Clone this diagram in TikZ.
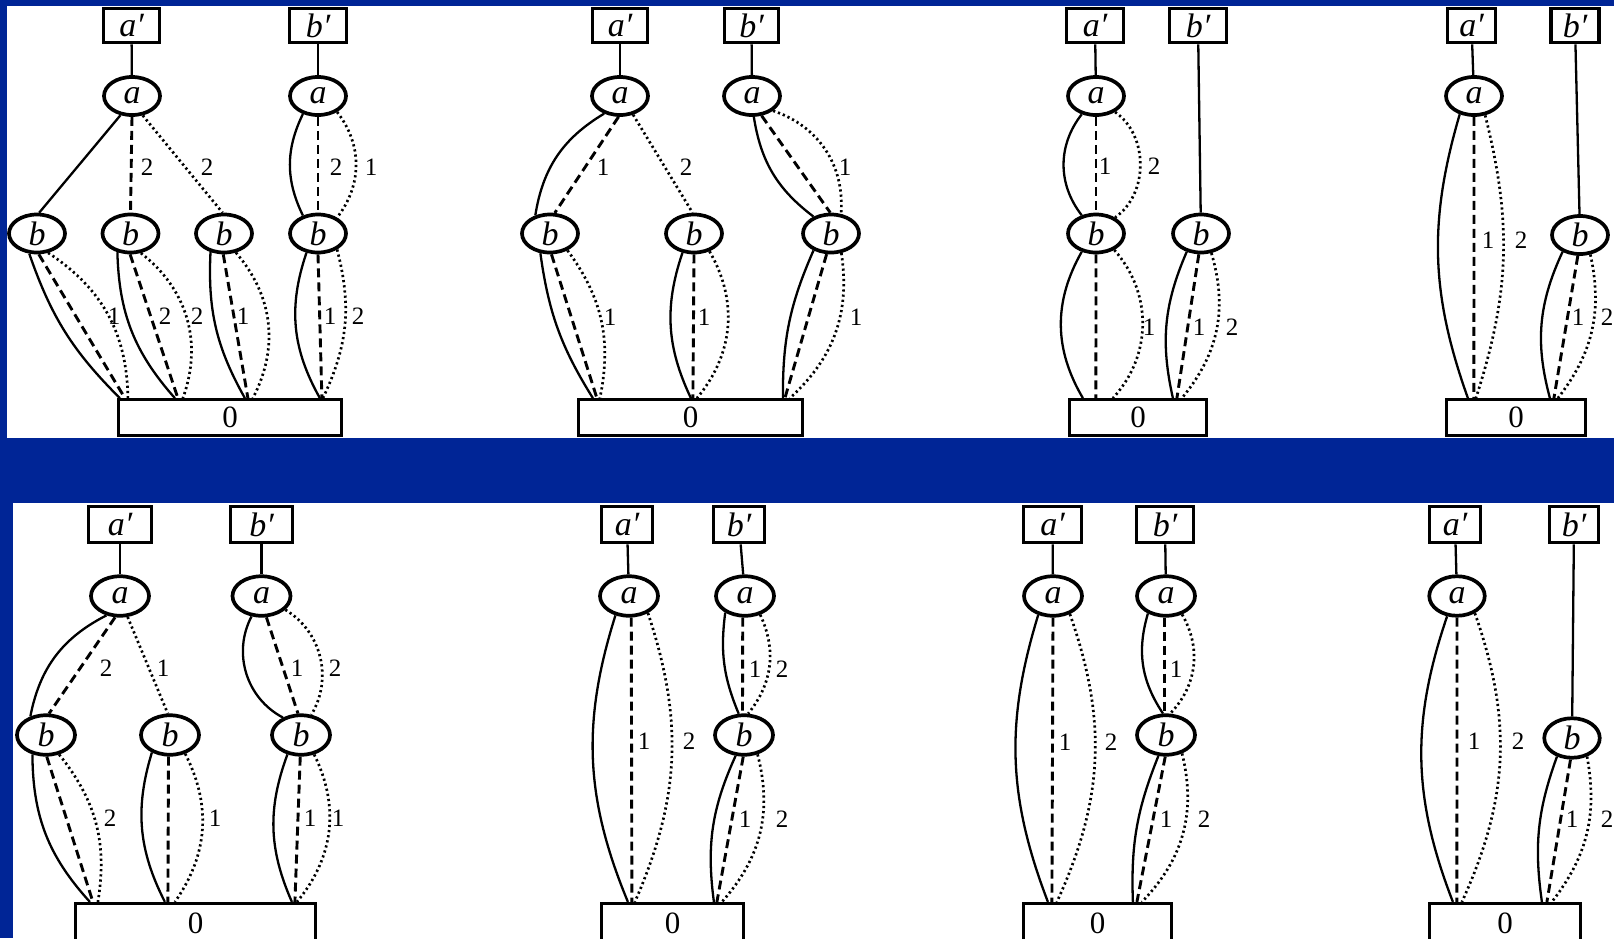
\documentclass[tikz,border=0pt]{standalone}
\usepackage{fontspec}
\setmainfont{Liberation Serif}
\usetikzlibrary{shapes.geometric}
\definecolor{slideblue}{RGB}{0,37,150}
\begin{document}
\begin{tikzpicture}[x=1pt,y=-1pt,
  lbox/.style={draw, rectangle, line width=3.2pt, minimum height=34.5pt, inner sep=0pt, font=\fontsize{34}{34}\selectfont\itshape},
  lboxb/.style={lbox, minimum height=36.5pt},
  nd/.style={draw, ellipse, line width=3.7pt, minimum width=56pt, minimum height=38pt, inner sep=0pt, font=\fontsize{34}{34}\selectfont\itshape},
  ndb/.style={nd, minimum width=58pt, minimum height=39.5pt},
  zbox/.style={draw, rectangle, line width=3.2pt, minimum height=35.5pt, inner sep=0pt, font=\fontsize{31}{31}\selectfont},
  sol/.style={line width=2.3pt},
  dsh/.style={line width=2.9pt, dash pattern=on 9pt off 5pt},
  dtt/.style={line width=2.7pt, dash pattern=on 2.2pt off 3pt},
  lab/.style={font=\fontsize{25}{25}\selectfont, inner sep=0pt}]
\useasboundingbox (0,0) rectangle (1614,938);
\clip (0,0) rectangle (1614,938);
\fill[slideblue] (0,0) rectangle (1614,938);
\fill[white] (7,6) rectangle (1614,438);
\fill[white] (13,503) rectangle (1614,938);

% ===== T1 =====
\node[lbox, minimum width=56pt] (t1ap) at (131.5,25.5) {a′};
\node[lbox, minimum width=57pt] (t1bp) at (318,25.5) {b′};
\node[nd] (t1a1) at (132,96) {a};
\node[nd] (t1a2) at (318,96) {a};
\node[nd] (t1b1) at (37,233.5) {b};
\node[nd] (t1b2) at (130.5,233.5) {b};
\node[nd] (t1b3) at (224,233.5) {b};
\node[nd] (t1b4) at (318,233.5) {b};
\node[zbox, minimum width=223pt] (t1z) at (230,417.5) {0};
\draw[sol] (t1ap) -- (t1a1);
\draw[sol] (t1bp) -- (t1a2);
\draw[sol] (t1a1.-121) -- (t1b1.84);
\draw[dsh] (t1a1.-90) -- (t1b2.90);
\draw[dtt] (t1a1.-61) -- (t1b3.94);
\draw[sol] (t1a2.-130) to[bend right=26] (t1b4.130);
\draw[dsh] (t1a2.-90) -- (t1b4.90);
\draw[dtt] (t1a2.-40) to[bend left=38] (t1b4.40);
\draw[sol] (t1b1.-111) to[bend right=13] ([xshift=3pt]t1z.north west);
\draw[dsh] (t1b1.-85) -- ([xshift=8pt]t1z.north west);
\draw[dtt] (t1b1.-60) to[bend left=28] ([xshift=11pt]t1z.north west);
\draw[sol] (t1b2.-125) to[bend right=20] ([xshift=58pt]t1z.north west);
\draw[dsh] (t1b2.-91) -- ([xshift=61pt]t1z.north west);
\draw[dtt] (t1b2.-62) to[bend left=36] ([xshift=66pt]t1z.north west);
\draw[sol] (t1b3.-126) to[bend right=16] ([xshift=128pt]t1z.north west);
\draw[dsh] (t1b3.-92) -- ([xshift=131pt]t1z.north west);
\draw[dtt] (t1b3.-58) to[bend left=34] ([xshift=136pt]t1z.north west);
\draw[sol] (t1b4.-121) to[bend right=24] ([xshift=203pt]t1z.north west);
\draw[dsh] (t1b4.-90) -- ([xshift=205pt]t1z.north west);
\draw[dtt] (t1b4.-40) to[bend left=20] ([xshift=206pt]t1z.north west);
\node[lab] (t1l1) at (147,167) {2};
\node[lab] (t1l2) at (207,167) {2};
\node[lab] (t1l3) at (336,167) {2};
\node[lab] (t1l4) at (371,167) {1};
\node[lab] (t1l5) at (114,316) {1};
\node[lab] (t1l6) at (165,316) {2};
\node[lab] (t1l7) at (197,316) {2};
\node[lab] (t1l8) at (243,316) {1};
\node[lab] (t1l9) at (330,316) {1};
\node[lab] (t1l10) at (358,316) {2};

% ===== T2 =====
\node[lbox, minimum width=55pt] (t2ap) at (620,25.5) {a′};
\node[lbox, minimum width=54pt] (t2bp) at (751.5,25.5) {b′};
\node[nd] (t2a1) at (620,96) {a};
\node[nd] (t2a2) at (752,96) {a};
\node[nd] (t2b1) at (550,233.5) {b};
\node[nd] (t2b2) at (694,233.5) {b};
\node[nd] (t2b3) at (831,233.5) {b};
\node[zbox, minimum width=224pt] (t2z) at (690.5,417.5) {0};
\draw[sol] (t2ap) -- (t2a1);
\draw[sol] (t2bp) -- (t2a2);
\draw[sol] (t2a1.-132) to[bend right=25] (t2b1.129);
\draw[dsh] (t2a1.-94) -- (t2b1.77);
\draw[dtt] (t2a1.-55) -- (t2b2.94);
\draw[sol] (t2a2.-85) to[bend right=22] (t2b3.136);
\draw[dsh] (t2a2.-64) -- (t2b3.92);
\draw[dtt] (t2a2.-35) to[bend left=38] (t2b3.63);
\draw[sol] (t2b1.-116) to[bend right=12] ([xshift=16pt]t2z.north west);
\draw[dsh] (t2b1.-86) -- ([xshift=20pt]t2z.north west);
\draw[dtt] (t2b1.-44) to[bend left=24] ([xshift=23pt]t2z.north west);
\draw[sol] (t2b2.-121) to[bend right=22] ([xshift=114pt]t2z.north west);
\draw[dsh] (t2b2.-90) -- ([xshift=116pt]t2z.north west);
\draw[dtt] (t2b2.-49) to[bend left=35] ([xshift=120pt]t2z.north west);
\draw[sol] (t2b3.-136) to[bend right=12] ([xshift=206pt]t2z.north west);
\draw[dsh] (t2b3.-102) -- ([xshift=208pt]t2z.north west);
\draw[dtt] (t2b3.-62) to[bend left=28] ([xshift=213pt]t2z.north west);
\node[lab] (t2l1) at (603,167) {1};
\node[lab] (t2l2) at (686,167) {2};
\node[lab] (t2l3) at (845,167) {1};
\node[lab] (t2l4) at (610,317) {1};
\node[lab] (t2l5) at (704,317) {1};
\node[lab] (t2l6) at (856,317) {1};

% ===== T3 =====
\node[lbox, minimum width=57pt] (t3ap) at (1095,25.5) {a′};
\node[lbox, minimum width=57pt] (t3bp) at (1198,25.5) {b′};
\node[nd] (t3a) at (1096,96) {a};
\node[nd] (t3b1) at (1096,233.5) {b};
\node[nd] (t3b2) at (1201,233.5) {b};
\node[zbox, minimum width=137pt] (t3z) at (1138,417.5) {0};
\draw[sol] (t3ap) -- (t3a);
\draw[sol] (t3bp) -- (t3b2);
\draw[sol] (t3a.-128) to[bend right=38] (t3b1.128);
\draw[dsh] (t3a.-90) -- (t3b1.90);
\draw[dtt] (t3a.-40) to[bend left=55] (t3b1.40);
\draw[sol] (t3b1.-128) to[bend right=30] ([xshift=15pt]t3z.north west);
\draw[dsh] (t3b1.-90) -- ([xshift=28pt]t3z.north west);
\draw[dtt] (t3b1.-42) to[bend left=42] ([xshift=45pt]t3z.north west);
\draw[sol] (t3b2.-128) to[bend right=18] ([xshift=105pt]t3z.north west);
\draw[dsh] (t3b2.-96) -- ([xshift=109pt]t3z.north west);
\draw[dtt] (t3b2.-62) to[bend left=28] ([xshift=114pt]t3z.north west);
\node[lab] (t3l1) at (1105,166) {1};
\node[lab] (t3l2) at (1154,166) {2};
\node[lab] (t3l3) at (1149,327) {1};
\node[lab] (t3l4) at (1199,327) {1};
\node[lab] (t3l5) at (1232,327) {2};

% ===== T4 =====
\node[lbox, minimum width=48pt] (t4ap) at (1471.5,25.5) {a′};
\node[lbox, minimum width=48pt] (t4bp) at (1575,25.5) {b′};
\node[nd] (t4a) at (1474,96) {a};
\node[nd] (t4b) at (1580,235) {b};
\node[zbox, minimum width=139pt] (t4z) at (1516,417.5) {0};
\draw[sol] (t4ap) -- (t4a);
\draw[sol] (t4bp) -- (t4b);
\draw[sol] (t4a.-128) to[bend right=18] ([xshift=23pt]t4z.north west);
\draw[dsh] (t4a.-90) -- ([xshift=29pt]t4z.north west);
\draw[dtt] (t4a.-60) to[bend left=16] ([xshift=31pt]t4z.north west);
\draw[sol] (t4b.-136) to[bend right=20] ([xshift=105pt]t4z.north west);
\draw[dsh] (t4b.-96) -- ([xshift=109pt]t4z.north west);
\draw[dtt] (t4b.-62) to[bend left=25] ([xshift=113pt]t4z.north west);
\node[lab] (t4l1) at (1488,240) {1};
\node[lab] (t4l2) at (1521,240) {2};
\node[lab] (t4l3) at (1578,317) {1};
\node[lab] (t4l4) at (1607,317) {2};

% ===== B1 =====
\node[lboxb, minimum width=63pt] (b1ap) at (120,524.5) {a′};
\node[lboxb, minimum width=62pt] (b1bp) at (261.5,524.5) {b′};
\node[ndb] (b1a1) at (120,596) {a};
\node[ndb] (b1a2) at (261.5,596) {a};
\node[ndb] (b1b1) at (46,735) {b};
\node[ndb] (b1b2) at (170,735) {b};
\node[ndb] (b1b3) at (301,735) {b};
\node[zbox, minimum width=240pt, minimum height=40pt] (b1z) at (195.5,923.5) {0};
\draw[sol] (b1ap) -- (b1a1);
\draw[sol] (b1bp) -- (b1a2);
\draw[sol] (b1a1.-125) to[bend right=26] (b1b1.130);
\draw[dsh] (b1a1.-103) -- (b1b1.82);
\draw[dtt] (b1a1.-70) -- (b1b2.96);
\draw[sol] (b1a2.-116) to[bend right=45] (b1b3.136);
\draw[dsh] (b1a2.-77) -- (b1b3.98);
\draw[dtt] (b1a2.-30) to[bend left=45] (b1b3.63);
\draw[sol] (b1b1.-125) to[bend right=21] ([xshift=16pt]b1z.north west);
\draw[dsh] (b1b1.-88) -- ([xshift=19pt]b1z.north west);
\draw[dtt] (b1b1.-56) to[bend left=24] ([xshift=24pt]b1z.north west);
\draw[sol] (b1b2.-136) to[bend right=22] ([xshift=91pt]b1z.north west);
\draw[dsh] (b1b2.-94) -- ([xshift=94pt]b1z.north west);
\draw[dtt] (b1b2.-51) to[bend left=31] ([xshift=101pt]b1z.north west);
\draw[sol] (b1b3.-125) to[bend right=22] ([xshift=218pt]b1z.north west);
\draw[dsh] (b1b3.-92) -- ([xshift=221pt]b1z.north west);
\draw[dtt] (b1b3.-56) to[bend left=33] ([xshift=223pt]b1z.north west);
\node[lab] (b1l1) at (106,668) {2};
\node[lab] (b1l2) at (163,668) {1};
\node[lab] (b1l3) at (297,668) {1};
\node[lab] (b1l4) at (335,668) {2};
\node[lab] (b1l5) at (110,818) {2};
\node[lab] (b1l6) at (215,818) {1};
\node[lab] (b1l7) at (310,818) {1};
\node[lab] (b1l8) at (338,818) {1};

% ===== B2 =====
\node[lboxb, minimum width=51pt] (b2ap) at (627,524.5) {a′};
\node[lboxb, minimum width=51pt] (b2bp) at (739,524.5) {b′};
\node[ndb] (b2a1) at (629,596) {a};
\node[ndb] (b2a2) at (745,596) {a};
\node[ndb] (b2b) at (744,735) {b};
\node[zbox, minimum width=142pt, minimum height=40pt] (b2z) at (672.5,923.5) {0};
\draw[sol] (b2ap) -- (b2a1);
\draw[sol] (b2bp) -- (b2a2);
\draw[sol] (b2a1.-125) to[bend right=20] ([xshift=28pt]b2z.north west);
\draw[dsh] (b2a1.-84) -- ([xshift=32pt]b2z.north west);
\draw[dtt] (b2a1.-42) to[bend left=21] ([xshift=35pt]b2z.north west);
\draw[sol] (b2a2.-140) to[bend right=15] (b2b.104);
\draw[dsh] (b2a2.-96) -- (b2b.94);
\draw[dtt] (b2a2.-51) to[bend left=32] (b2b.79);
\draw[sol] (b2b.-112) to[bend right=16] ([xshift=114pt]b2z.north west);
\draw[dsh] (b2b.-92) -- ([xshift=117pt]b2z.north west);
\draw[dtt] (b2b.-55) to[bend left=28] ([xshift=122pt]b2z.north west);
\node[lab] (b2l1) at (644,741) {1};
\node[lab] (b2l2) at (689,741) {2};
\node[lab] (b2l3) at (755,669) {1};
\node[lab] (b2l4) at (782,669) {2};
\node[lab] (b2l5) at (745,819) {1};
\node[lab] (b2l6) at (782,819) {2};

% ===== B3 =====
\node[lboxb, minimum width=58pt] (b3ap) at (1052.5,524.5) {a′};
\node[lboxb, minimum width=57pt] (b3bp) at (1165,524.5) {b′};
\node[ndb] (b3a1) at (1053,596) {a};
\node[ndb] (b3a2) at (1166,596) {a};
\node[ndb] (b3b) at (1166,735) {b};
\node[zbox, minimum width=148pt, minimum height=40pt] (b3z) at (1097.5,923.5) {0};
\draw[sol] (b3ap) -- (b3a1);
\draw[sol] (b3bp) -- (b3a2);
\draw[sol] (b3a1.-128) to[bend right=19] ([xshift=26pt]b3z.north west);
\draw[dsh] (b3a1.-90) -- ([xshift=30pt]b3z.north west);
\draw[dtt] (b3a1.-47) to[bend left=22] ([xshift=35pt]b3z.north west);
\draw[sol] (b3a2.-136) to[bend right=25] (b3b.98);
\draw[dsh] (b3a2.-94) -- (b3b.94);
\draw[dtt] (b3a2.-49) to[bend left=37] (b3b.79);
\draw[sol] (b3b.-110) to[bend right=12] ([xshift=111pt]b3z.north west);
\draw[dsh] (b3b.-92) -- ([xshift=115pt]b3z.north west);
\draw[dtt] (b3b.-49) to[bend left=29] ([xshift=120pt]b3z.north west);
\node[lab] (b3l1) at (1065,742) {1};
\node[lab] (b3l2) at (1111,742) {2};
\node[lab] (b3l3) at (1176,669) {1};
\node[lab] (b3l4) at (1166,819) {1};
\node[lab] (b3l5) at (1204,819) {2};

% ===== B4 =====
\node[lboxb, minimum width=51pt] (b4ap) at (1455,524.5) {a′};
\node[lboxb, minimum width=49pt] (b4bp) at (1574,524.5) {b′};
\node[ndb, minimum width=55.5pt] (b4a) at (1457,596) {a};
\node[ndb, minimum width=55.5pt] (b4b) at (1572,738) {b};
\node[zbox, minimum width=151pt, minimum height=40pt] (b4z) at (1505,923.5) {0};
\draw[sol] (b4ap) -- (b4a);
\draw[sol] (b4bp) -- (b4b);
\draw[sol] (b4a.-116) to[bend right=20] ([xshift=25pt]b4z.north west);
\draw[dsh] (b4a.-90) -- ([xshift=29pt]b4z.north west);
\draw[dtt] (b4a.-44) to[bend left=22] ([xshift=34pt]b4z.north west);
\draw[sol] (b4b.-129) to[bend right=14] ([xshift=114pt]b4z.north west);
\draw[dsh] (b4b.-94) -- ([xshift=119pt]b4z.north west);
\draw[dtt] (b4b.-51) to[bend left=24] ([xshift=124pt]b4z.north west);
\node[lab] (b4l1) at (1474,741) {1};
\node[lab] (b4l2) at (1518,741) {2};
\node[lab] (b4l3) at (1572,819) {1};
\node[lab] (b4l4) at (1607,819) {2};
\end{tikzpicture}
\end{document}
